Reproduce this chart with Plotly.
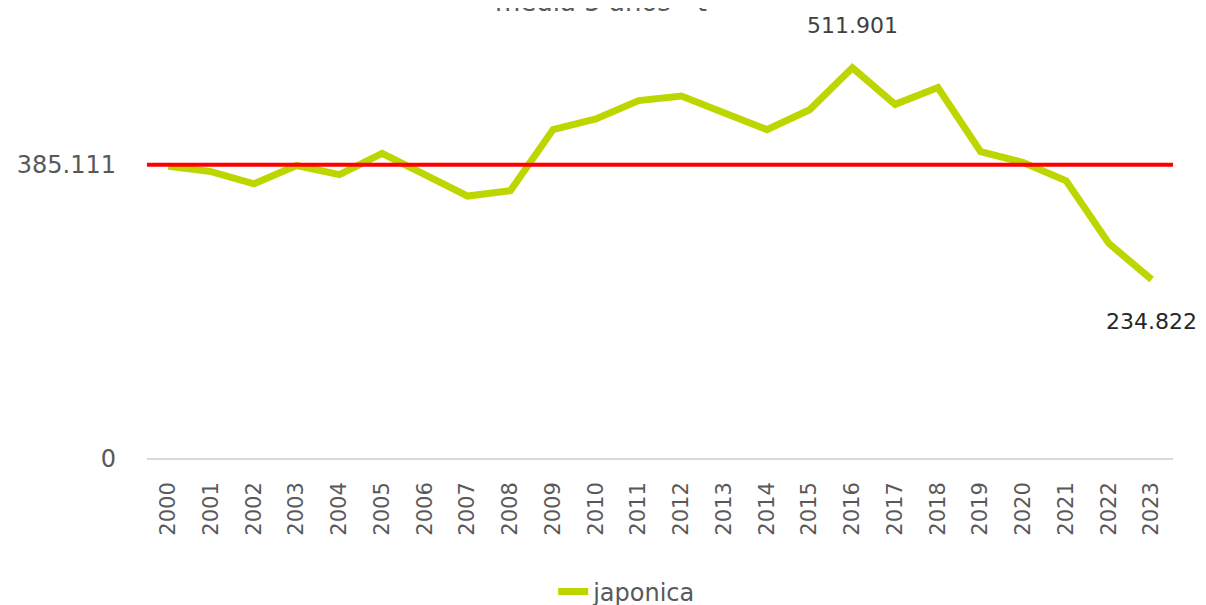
import plotly.graph_objects as go

years = [str(y) for y in range(2000, 2024)]
japonica = [383, 376, 360, 384, 372, 400, 372, 344, 351, 431, 445, 469,
            475, 453, 431, 457, 511.901, 464, 486, 402, 388, 364, 282, 234.822]
media_5 = 385.111
y_ticks = [0, media_5]
y_ticktext = ["0", "385.111"]

GREEN = "#bed600"
GREY = "#595959"
FONT = "DejaVu Sans"

fig = go.Figure()
fig.add_trace(go.Scatter(x=years, y=japonica, mode="lines", name="japonica",
                         line=dict(color=GREEN, width=7)))

# media 5 años como línea horizontal roja
fig.add_shape(type="line", xref="paper", x0=0, x1=1, yref="y", y0=media_5, y1=media_5,
              line=dict(color="#ff0000", width=4))

# etiquetas de máximo y último valor (x como índice de categoría)
i_max = japonica.index(max(japonica))
i_last = len(japonica) - 1
fig.add_annotation(x=i_max, y=japonica[i_max], text=f"{japonica[i_max]:.3f}",
                   showarrow=False, yshift=42, font=dict(size=22, color="#404040", family=FONT))
fig.add_annotation(x=i_last, y=japonica[i_last], text=f"{japonica[i_last]:.3f}",
                   showarrow=False, yshift=-42, font=dict(size=22, color="#262626", family=FONT))

# título (cortado arriba, como en el original)
fig.add_annotation(xref="paper", yref="paper", x=0.4425, y=1.028, yanchor="bottom",
                   text="media 5 años - t", showarrow=False,
                   font=dict(size=26, color=GREY, family=FONT))

fig.update_layout(
    width=1206, height=605,
    margin=dict(l=139, r=41, t=23, b=154),
    plot_bgcolor="white", paper_bgcolor="white",
    font=dict(family=FONT, color=GREY, size=22),
    showlegend=True,
    legend=dict(orientation="h", x=0.468, xanchor="center", yref="container",
                y=0.035, yanchor="middle", font=dict(size=24, color=GREY)),
    xaxis=dict(type="category", range=[-0.5, len(years) - 0.5], tickangle=-90,
               showgrid=False, showline=False, ticks="", automargin=False,
               ticklabelstandoff=18, tickfont=dict(size=21, color=GREY)),
    yaxis=dict(range=[0, 560], tickvals=y_ticks, ticktext=y_ticktext, showgrid=False,
               zeroline=True, zerolinecolor="#d9d9d9", zerolinewidth=2, automargin=False,
               ticks="", ticklabelstandoff=30, tickfont=dict(size=24, color=GREY)),
)

fig.write_html("out.html")
